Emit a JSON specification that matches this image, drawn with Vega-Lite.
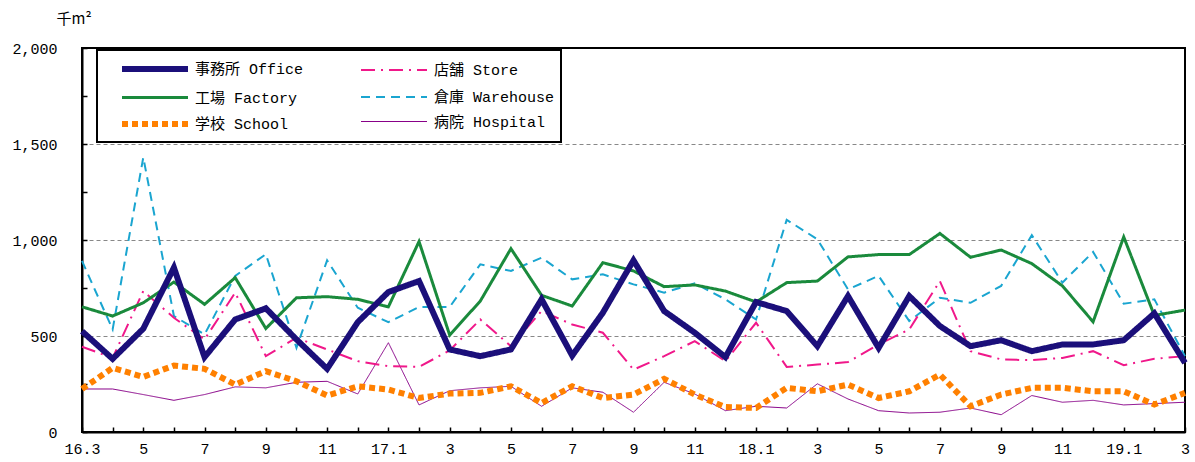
{
  "$schema": "https://vega.github.io/schema/vega-lite/v6.json",
  "width": 1103,
  "height": 384,
  "autosize": "none",
  "padding": {"left": 82, "top": 48, "right": 10, "bottom": 30},
  "background": "white",
  "title": {"text": "(Non-dwelling)by use(Floor area)", "frame": "group", "anchor": "middle", "baseline": "alphabetic", "offset": 44, "dx": -33, "fontSize": 17, "fontWeight": "normal", "font": "Liberation Mono", "color": "black"},
  "config": {
    "font": "Liberation Mono, Noto Sans CJK JP",
    "view": {"stroke": "black", "strokeWidth": 2},
    "axis": {"labelFont": "Liberation Mono, Noto Sans CJK JP", "labelFontSize": 15, "labelColor": "black", "domainColor": "black", "domainWidth": 2, "tickColor": "black", "tickWidth": 1.5},
    "legend": {
      "title": null, "orient": "none", "legendX": 15, "legendY": 2, "columns": 2, "direction": "horizontal",
      "symbolType": "M-1,0H5.6", "symbolSize": 400, "labelFontSize": 15, "labelFont": "Liberation Mono, Noto Sans CJK JP", "labelColor": "black",
      "columnPadding": 38, "rowPadding": 5, "padding": 6, "symbolOffset": 16, "labelOffset": 50,
      "strokeColor": "black", "fillColor": "white", "labelLimit": 300
    }
  },
  "data": {"values": [
    {"m": "16.3", "事務所 Office": 525, "工場 Factory": 652, "学校 School": 224, "店舗 Store": 444, "倉庫 Warehouse": 891, "病院 Hospital": 224},
    {"m": "16.4", "事務所 Office": 381, "工場 Factory": 604, "学校 School": 334, "店舗 Store": 386, "倉庫 Warehouse": 534, "病院 Hospital": 224},
    {"m": "16.5", "事務所 Office": 538, "工場 Factory": 673, "学校 School": 287, "店舗 Store": 734, "倉庫 Warehouse": 1430, "病院 Hospital": 195},
    {"m": "16.6", "事務所 Office": 856, "工場 Factory": 781, "学校 School": 346, "店舗 Store": 595, "倉庫 Warehouse": 604, "病院 Hospital": 165},
    {"m": "16.7", "事務所 Office": 390, "工場 Factory": 665, "学校 School": 329, "店舗 Store": 482, "倉庫 Warehouse": 508, "病院 Hospital": 195},
    {"m": "16.8", "事務所 Office": 586, "工場 Factory": 804, "学校 School": 247, "店舗 Store": 726, "倉庫 Warehouse": 813, "病院 Hospital": 235},
    {"m": "16.9", "事務所 Office": 644, "工場 Factory": 539, "学校 School": 317, "店舗 Store": 395, "倉庫 Warehouse": 926, "病院 Hospital": 230},
    {"m": "16.10", "事務所 Office": 482, "工場 Factory": 699, "学校 School": 264, "店舗 Store": 491, "倉庫 Warehouse": 438, "病院 Hospital": 259},
    {"m": "16.11", "事務所 Office": 329, "工場 Factory": 705, "学校 School": 190, "店舗 Store": 430, "倉庫 Warehouse": 894, "病院 Hospital": 264},
    {"m": "16.12", "事務所 Office": 572, "工場 Factory": 691, "学校 School": 238, "店舗 Store": 369, "倉庫 Warehouse": 647, "病院 Hospital": 198},
    {"m": "17.1", "事務所 Office": 729, "工場 Factory": 652, "学校 School": 221, "店舗 Store": 343, "倉庫 Warehouse": 572, "病院 Hospital": 465},
    {"m": "17.2", "事務所 Office": 786, "工場 Factory": 992, "学校 School": 177, "店舗 Store": 339, "倉庫 Warehouse": 651, "病院 Hospital": 141},
    {"m": "17.3", "事務所 Office": 430, "工場 Factory": 505, "学校 School": 200, "店舗 Store": 425, "倉庫 Warehouse": 651, "病院 Hospital": 215},
    {"m": "17.4", "事務所 Office": 395, "工場 Factory": 682, "学校 School": 204, "店舗 Store": 586, "倉庫 Warehouse": 873, "病院 Hospital": 230},
    {"m": "17.5", "事務所 Office": 430, "工場 Factory": 955, "学校 School": 238, "店舗 Store": 447, "倉庫 Warehouse": 839, "病院 Hospital": 238},
    {"m": "17.6", "事務所 Office": 691, "工場 Factory": 712, "学校 School": 151, "店舗 Store": 630, "倉庫 Warehouse": 908, "病院 Hospital": 134},
    {"m": "17.7", "事務所 Office": 398, "工場 Factory": 656, "学校 School": 238, "店舗 Store": 560, "倉庫 Warehouse": 795, "病院 Hospital": 230},
    {"m": "17.8", "事務所 Office": 621, "工場 Factory": 882, "学校 School": 177, "店舗 Store": 517, "倉庫 Warehouse": 821, "病院 Hospital": 207},
    {"m": "17.9", "事務所 Office": 894, "工場 Factory": 839, "学校 School": 195, "店舗 Store": 325, "倉庫 Warehouse": 769, "病院 Hospital": 103},
    {"m": "17.10", "事務所 Office": 630, "工場 Factory": 757, "学校 School": 277, "店舗 Store": 395, "倉庫 Warehouse": 726, "病院 Hospital": 259},
    {"m": "17.11", "事務所 Office": 517, "工場 Factory": 766, "学校 School": 195, "店舗 Store": 473, "倉庫 Warehouse": 774, "病院 Hospital": 198},
    {"m": "17.12", "事務所 Office": 390, "工場 Factory": 734, "学校 School": 130, "店舗 Store": 369, "倉庫 Warehouse": 691, "病院 Hospital": 111},
    {"m": "18.1", "事務所 Office": 677, "工場 Factory": 677, "学校 School": 125, "店舗 Store": 569, "倉庫 Warehouse": 586, "病院 Hospital": 134},
    {"m": "18.2", "事務所 Office": 630, "工場 Factory": 778, "学校 School": 230, "店舗 Store": 339, "倉庫 Warehouse": 1105, "病院 Hospital": 125},
    {"m": "18.3", "事務所 Office": 447, "工場 Factory": 786, "学校 School": 212, "店舗 Store": 351, "倉庫 Warehouse": 1004, "病院 Hospital": 251},
    {"m": "18.4", "事務所 Office": 708, "工場 Factory": 912, "学校 School": 247, "店舗 Store": 364, "倉庫 Warehouse": 743, "病院 Hospital": 172},
    {"m": "18.5", "事務所 Office": 438, "工場 Factory": 924, "学校 School": 177, "店舗 Store": 456, "倉庫 Warehouse": 813, "病院 Hospital": 111},
    {"m": "18.6", "事務所 Office": 708, "工場 Factory": 924, "学校 School": 212, "店舗 Store": 534, "倉庫 Warehouse": 578, "病院 Hospital": 99},
    {"m": "18.7", "事務所 Office": 552, "工場 Factory": 1034, "学校 School": 299, "店舗 Store": 786, "倉庫 Warehouse": 699, "病院 Hospital": 103},
    {"m": "18.8", "事務所 Office": 447, "工場 Factory": 910, "学校 School": 134, "店舗 Store": 421, "倉庫 Warehouse": 673, "病院 Hospital": 125},
    {"m": "18.9", "事務所 Office": 478, "工場 Factory": 948, "学校 School": 195, "店舗 Store": 378, "倉庫 Warehouse": 761, "病院 Hospital": 90},
    {"m": "18.10", "事務所 Office": 421, "工場 Factory": 877, "学校 School": 230, "店舗 Store": 374, "倉庫 Warehouse": 1025, "病院 Hospital": 190},
    {"m": "18.11", "事務所 Office": 456, "工場 Factory": 761, "学校 School": 230, "店舗 Store": 386, "倉庫 Warehouse": 778, "病院 Hospital": 155},
    {"m": "18.12", "事務所 Office": 456, "工場 Factory": 574, "学校 School": 212, "店舗 Store": 421, "倉庫 Warehouse": 938, "病院 Hospital": 165},
    {"m": "19.1", "事務所 Office": 478, "工場 Factory": 1016, "学校 School": 212, "店舗 Store": 348, "倉庫 Warehouse": 668, "病院 Hospital": 141},
    {"m": "19.2", "事務所 Office": 618, "工場 Factory": 607, "学校 School": 143, "店舗 Store": 381, "倉庫 Warehouse": 691, "病院 Hospital": 148},
    {"m": "19.3", "事務所 Office": 360, "工場 Factory": 635, "学校 School": 204, "店舗 Store": 395, "倉庫 Warehouse": 395, "病院 Hospital": 155}
  ]},
  "transform": [
    {"fold": ["病院 Hospital", "倉庫 Warehouse", "店舗 Store", "学校 School", "工場 Factory", "事務所 Office"], "as": ["series", "value"]}
  ],
  "mark": {"type": "line", "strokeCap": "butt", "strokeJoin": "miter"},
  "encoding": {
    "x": {
      "field": "m", "type": "ordinal", "sort": null,
      "scale": {"type": "point", "padding": 0},
      "axis": {
        "title": null, "labelAngle": 0, "grid": false, "tickSize": -5, "labelPadding": 14,
        "labelExpr": "toNumber(split(datum.value, '.')[1]) % 2 == 1 ? ((datum.value == '16.3' || split(datum.value, '.')[1] == '1') ? datum.value : split(datum.value, '.')[1]) : ''"
      }
    },
    "y": {
      "field": "value", "type": "quantitative",
      "scale": {"domain": [0, 2000], "nice": false},
      "axis": {
        "values": [0, 250, 500, 750, 1000, 1250, 1500, 1750, 2000],
        "labelExpr": "datum.value % 500 == 0 ? format(datum.value, ',') : ''",
        "tickSize": -5, "labelPadding": 30,
        "grid": true, "gridColor": "#888888", "gridDash": [4, 3], "gridWidth": 1,
        "gridOpacity": {"condition": {"test": "datum.value % 500 == 0 && datum.value > 0 && datum.value < 2000", "value": 1}, "value": 0},
        "title": "千m²", "titleAngle": 0, "titleAlign": "left", "titleBaseline": "middle", "titleX": -26, "titleY": -30,
        "titleFontSize": 15, "titleFontWeight": "normal", "titleFont": "Noto Sans CJK JP", "titleColor": "black"
      }
    },
    "color": {
      "field": "series", "type": "nominal",
      "scale": {
        "domain": ["事務所 Office", "店舗 Store", "工場 Factory", "倉庫 Warehouse", "学校 School", "病院 Hospital"],
        "range": ["#1b0f7a", "#f0188a", "#1a8a3c", "#1aa5d0", "#ff8000", "#880088"]
      },
      "legend": {"encode": {"legend": {"update": {"strokeWidth": {"value": 2}}}}}
    },
    "strokeDash": {
      "field": "series", "type": "nominal",
      "scale": {
        "domain": ["事務所 Office", "店舗 Store", "工場 Factory", "倉庫 Warehouse", "学校 School", "病院 Hospital"],
        "range": [[1, 0], [14, 6, 2, 6], [1, 0], [9, 6], [6, 4], [1, 0]]
      },
      "legend": {"encode": {"legend": {"update": {"strokeWidth": {"value": 2}}}}}
    },
    "strokeWidth": {
      "field": "series", "type": "nominal",
      "scale": {
        "type": "ordinal",
        "domain": ["事務所 Office", "店舗 Store", "工場 Factory", "倉庫 Warehouse", "学校 School", "病院 Hospital"],
        "range": [6, 2, 3, 2, 6, 1]
      },
      "legend": {"encode": {"legend": {"update": {"strokeWidth": {"value": 2}}}}}
    }
  }
}
